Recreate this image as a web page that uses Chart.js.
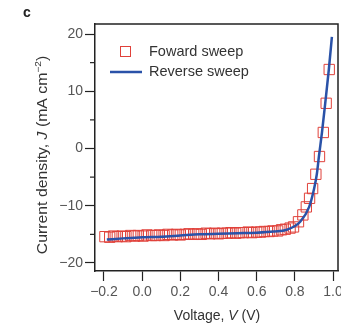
<!DOCTYPE html>
<html><head><meta charset="utf-8">
<script src="https://cdn.jsdelivr.net/npm/chart.js@4"></script>
<style>html,body{margin:0;padding:0;background:#fff}#wrap{width:341px;height:325px;position:relative}</style>
</head><body><div id="wrap"><canvas id="c"></canvas></div>
<script>
const forwardV = [-0.195,-0.17,-0.15,-0.13,-0.105,-0.085,-0.06,-0.04,-0.02,0.005,0.025,0.05,0.07,0.09,0.115,0.135,0.16,0.18,0.2,0.225,0.245,0.27,0.29,0.31,0.335,0.355,0.38,0.4,0.42,0.445,0.465,0.49,0.51,0.53,0.555,0.575,0.6,0.62,0.64,0.665,0.685,0.71,0.73,0.75,0.775,0.793,0.819,0.842,0.86,0.877,0.893,0.91,0.929,0.949,0.964,0.98];
const forwardJ = [-15.4,-15.5,-15.3,-15.4,-15.3,-15.4,-15.2,-15.3,-15.2,-15.3,-15.1,-15.2,-15.2,-15.1,-15.2,-15.0,-15.1,-15.0,-15.1,-15.0,-14.9,-15.0,-14.9,-15.0,-14.8,-14.9,-14.8,-14.9,-14.8,-14.8,-14.7,-14.8,-14.7,-14.7,-14.6,-14.7,-14.6,-14.6,-14.5,-14.5,-14.4,-14.4,-14.2,-14.1,-13.9,-13.7,-12.8,-11.6,-10.2,-8.7,-7.0,-4.5,-1.4,2.8,7.9,13.8];
const reverseV = [-0.185,-0.1,0.0,0.1,0.2,0.3,0.4,0.5,0.6,0.69,0.758,0.828,0.875,0.901,0.915,0.926,0.942,0.959,0.978,0.994];
const reverseJ = [-15.9,-15.7,-15.5,-15.4,-15.2,-15.0,-14.9,-14.8,-14.7,-14.5,-14.2,-12.8,-10.2,-7.0,-4.5,-1.4,2.8,7.9,13.8,19.5];
const seriesNames = ["Foward sweep","Reverse sweep"];
const xTicks = [-0.2,0.0,0.2,0.4,0.6,0.8,1.0];
const yMajorTicks = [-20,-10,0,10,20];
const yMinorTicks = [-15,-5,5,15];

const FONT = '"Liberation Sans", Arial, sans-serif';
const minus = s => String(s).replace('-', '\u2212');

const framePlugin = {
  id: 'frame',
  afterDraw(chart) {
    const ctx = chart.ctx, a = chart.chartArea;
    const ys = chart.scales.y;
    ctx.save();
    ctx.strokeStyle = '#222'; ctx.lineWidth = 1.5;
    ctx.beginPath();
    ctx.moveTo(a.left, a.top); ctx.lineTo(a.right, a.top); ctx.lineTo(a.right, a.bottom);
    ctx.stroke();
    // minor y ticks
    ctx.lineWidth = 1.2;
    yMinorTicks.forEach(v => {
      const y = ys.getPixelForValue(v);
      ctx.beginPath(); ctx.moveTo(a.left - 5, y); ctx.lineTo(a.left, y); ctx.stroke();
    });
    // legend
    const ds = chart.data.datasets;
    ctx.font = '14.5px ' + FONT; ctx.fillStyle = '#333'; ctx.textBaseline = 'middle'; ctx.textAlign = 'left';
    ctx.strokeStyle = ds[0].borderColor; ctx.lineWidth = 1;
    ctx.strokeRect(120.5, 46.5, 10, 10);
    ctx.fillText(ds[0].label, 149, 52);
    ctx.strokeStyle = ds[1].borderColor; ctx.lineWidth = 2.5;
    ctx.beginPath(); ctx.moveTo(110, 72); ctx.lineTo(142, 72); ctx.stroke();
    ctx.fillText(ds[1].label, 149, 72);
    // panel letter
    ctx.font = 'bold 14px ' + FONT; ctx.fillStyle = '#222';
    ctx.fillText('c', 23, 13);
    // axis titles
    const drawSegs = (segs, cx, cy) => {
      let total = 0;
      segs.forEach(s => { ctx.font = s.f; s.w = ctx.measureText(s.t).width; total += s.w; });
      let x = cx - total / 2;
      segs.forEach(s => { ctx.font = s.f; ctx.fillText(s.t, x, cy + (s.dy || 0)); x += s.w; });
    };
    ctx.fillStyle = '#333'; ctx.textAlign = 'left'; ctx.textBaseline = 'middle';
    const n = '14px ' + FONT, it = 'italic 14px ' + FONT, sup = '9px ' + FONT;
    drawSegs([{t:'Voltage, ',f:n},{t:'V',f:it},{t:' (V)',f:n}], 217, 316);
    ctx.save();
    ctx.translate(43.5, 155); ctx.rotate(-Math.PI / 2); ctx.scale(1.13, 1);
    drawSegs([{t:'Current density, ',f:n},{t:'J',f:it},{t:' (mA cm',f:n},{t:'\u22122',f:sup,dy:-5},{t:')',f:n}], 0, 0);
    ctx.restore();
    ctx.restore();
  }
};

new Chart(document.getElementById('c'), {
  type: 'scatter',
  data: {
    datasets: [
      {
        label: seriesNames[0],
        data: forwardV.map((v, i) => ({x: v, y: forwardJ[i]})),
        pointStyle: 'rect', pointRadius: 7.3, pointBorderWidth: 1,
        borderColor: '#e0413a', backgroundColor: 'rgba(0,0,0,0)',
        showLine: false, order: 2
      },
      {
        label: seriesNames[1],
        data: reverseV.map((v, i) => ({x: v, y: reverseJ[i]})),
        showLine: true, pointRadius: 0, borderColor: '#2a52a8', borderWidth: 2.5,
        cubicInterpolationMode: 'monotone', backgroundColor: 'rgba(0,0,0,0)', order: 1
      }
    ]
  },
  options: {
    responsive: true, maintainAspectRatio: false, animation: false,
    layout: {autoPadding: false, padding: {top: 24, right: 3, left: 0, bottom: 0}},
    plugins: {legend: {display: false}, tooltip: {enabled: false}},
    scales: {
      x: {
        type: 'linear', min: -0.247, max: 1.026,
        afterFit: s => { s.height = 54; s.paddingLeft = 0; s.paddingRight = 0; },
        afterBuildTicks: s => { s.ticks = xTicks.map(v => ({value: v})); },
        border: {color: '#222', width: 1.5},
        grid: {drawOnChartArea: false, drawTicks: true, tickLength: 10, tickColor: '#222', tickWidth: 1.2},
        ticks: {color: '#555', font: {family: FONT, size: 14}, padding: 3, maxRotation: 0,
          callback: v => minus(Number(v).toFixed(1))}
      },
      y: {
        type: 'linear', min: -21.4, max: 21.75,
        afterFit: s => { s.width = 95; s.paddingTop = 0; s.paddingBottom = 0; },
        afterBuildTicks: s => { s.ticks = yMajorTicks.map(v => ({value: v})); },
        border: {color: '#222', width: 1.5},
        grid: {drawOnChartArea: false, drawTicks: true, tickLength: 10, tickColor: '#222', tickWidth: 1.2},
        ticks: {color: '#555', font: {family: FONT, size: 14}, padding: 2,
          callback: v => minus(v)}
      }
    }
  },
  plugins: [framePlugin]
});
</script></body></html>
